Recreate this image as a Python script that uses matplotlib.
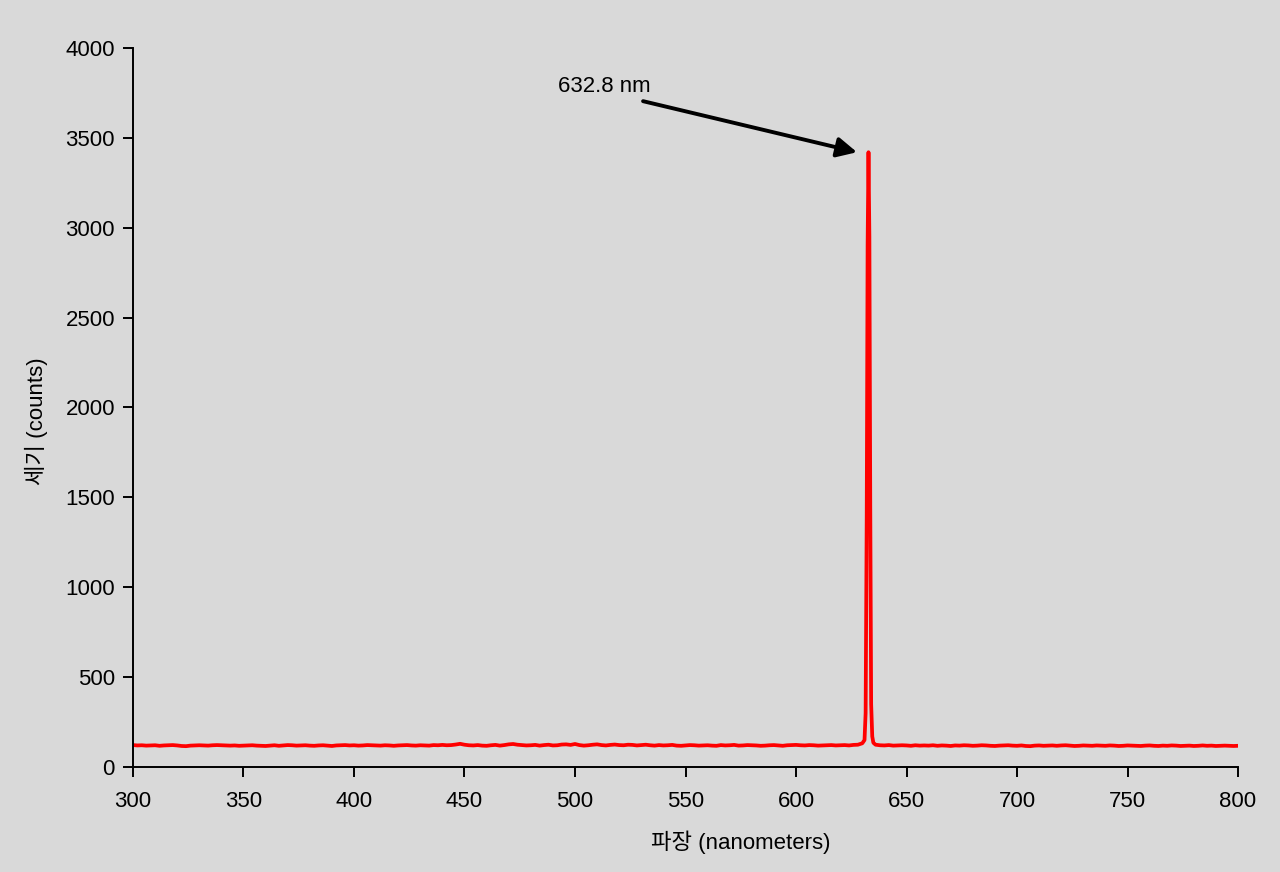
import numpy as np
import matplotlib
matplotlib.use("Agg")
import matplotlib.pyplot as plt

plt.rcParams['font.family'] = ['Liberation Sans', 'Noto Sans CJK KR', 'DejaVu Sans']

# baseline 300-628 nm, 2 nm steps
left_counts = [
    122, 120, 121, 119, 120, 121, 118, 120, 121, 122,
    120, 117, 116, 119, 120, 121, 120, 119, 121, 122,
    121, 120, 119, 120, 118, 119, 120, 121, 119, 118,
    117, 119, 121, 118, 120, 122, 121, 119, 120, 121,
    119, 118, 120, 121, 119, 117, 120, 121, 122, 120,
    121, 119, 120, 122, 121, 120, 119, 121, 120, 118,
    120, 121, 122, 120, 119, 121, 120, 119, 122, 121,
    123, 121, 122, 125, 129, 124, 121, 120, 122, 119,
    118, 121, 123, 119, 122, 126, 128, 124, 122, 120,
    121, 123, 119, 122, 124, 120, 121, 125, 126, 123,
    128, 122, 119, 121, 124, 126, 122, 120, 123, 125,
    122, 121, 124, 123, 120, 122, 124, 121, 119, 122,
    120, 121, 123, 119, 118, 120, 122, 121, 119, 120,
    121, 119, 118, 122, 120, 121, 123, 119, 120, 122,
    121, 120, 118, 119, 121, 122, 120, 118, 121, 122,
    123, 121, 120, 122, 121, 119, 120, 121, 122, 120,
    121, 122, 120, 123, 124,
]

# laser line
peak_nm = [629, 630, 631, 631.5, 632, 632.4, 632.8, 633.2, 633.6, 634, 634.5, 635, 636]
peak_counts = [128, 132, 150, 300, 1400, 2900, 3420, 2950, 1450, 350, 170, 135, 124]

# baseline 638-800 nm, 2 nm steps
right_counts = [
    121, 120, 122, 119, 120, 121, 120, 118, 121, 119,
    120, 119, 121, 118, 120, 119, 117, 120, 119, 121,
    120, 118, 119, 121, 120, 118, 117, 119, 120, 121,
    119, 118, 120, 117, 116, 119, 120, 118, 119, 120,
    118, 120, 121, 119, 117, 118, 120, 119, 118, 120,
    119, 118, 120, 119, 117, 118, 120, 119, 118, 117,
    119, 120, 118, 117, 119, 118, 120, 119, 117, 118,
    119, 117, 118, 120, 118, 119, 117, 118, 119, 118,
    117, 118,
]

wavelength = np.concatenate([np.arange(300, 629, 2), peak_nm, np.arange(638, 801, 2)])
counts = np.concatenate([left_counts, peak_counts, right_counts])

bg = '#d9d9d9'
fig = plt.figure(figsize=(12.8, 8.72), dpi=100, facecolor=bg)
ax = fig.add_axes([0.1039, 0.1204, 0.8633, 0.8246])
ax.set_facecolor(bg)

ax.plot(wavelength, counts, color='#ff0000', lw=2.7, solid_joinstyle='round')

ax.set_xlim(300, 800)
ax.set_ylim(0, 4000)
ax.set_xticks(np.arange(300, 801, 50))
ax.set_yticks(np.arange(0, 4001, 500))
for s in ['top', 'right']:
    ax.spines[s].set_visible(False)
for s in ['left', 'bottom']:
    ax.spines[s].set_linewidth(1.4)
ax.tick_params(direction='out', length=7, width=1.4, labelsize=16)
ax.tick_params(axis='x', pad=10)
ax.tick_params(axis='y', pad=6)

ax.set_xlabel('파장 (nanometers)', fontsize=16)
ax.set_ylabel('세기 (counts)', fontsize=16)
ax.xaxis.set_label_coords(0.550, -0.088)
ax.yaxis.set_label_coords(-0.077, 0.481)

ax.annotate('', xy=(627.6, 3420), xytext=(530.8, 3704),
            arrowprops=dict(arrowstyle='-|>', lw=2.8, color='black',
                            mutation_scale=30, shrinkA=0, shrinkB=0))
ax.text(492.3, 3787, '632.8 nm', fontsize=16, ha='left', va='center')

fig.savefig('out.png', dpi=100, facecolor=bg)
